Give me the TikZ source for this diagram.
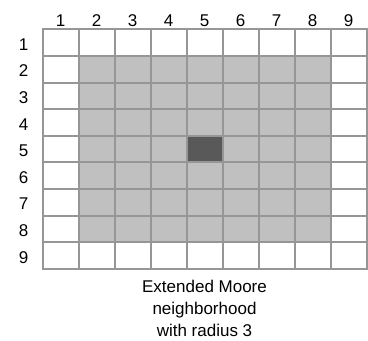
\documentclass[tikz,border=0pt]{standalone}
\usepackage{fontspec}
\setmainfont{Liberation Sans}
\usepackage{xcolor}
\usetikzlibrary{positioning}
\definecolor{gridline}{HTML}{969696}
\definecolor{hoodgray}{HTML}{C0C0C0}
\definecolor{centergray}{HTML}{595959}

\begin{document}
\begin{tikzpicture}[x=0.75pt, y=-0.75pt,
  cell/.style={draw=gridline, line width=1.5pt, minimum width=27pt, minimum height=19.95pt, inner sep=0pt, outer sep=0pt},
  idx/.style={inner sep=0pt, font=\fontsize{12.75}{15}\selectfont},
  caption/.style={inner sep=0pt, align=center, font=\fontsize{12.75}{16.65}\selectfont}
]
\useasboundingbox (0,0) rectangle (368,341);
% cells of the 9x9 lattice
\foreach \r in {1,...,9} {
  \foreach \c in {1,...,9} {
    \def\cellfill{white}
    \ifnum\r>1 \ifnum\r<9 \ifnum\c>1 \ifnum\c<9 \def\cellfill{hoodgray}\fi\fi\fi\fi
    \ifnum\r=5 \ifnum\c=5 \def\cellfill{centergray}\fi\fi
    \node[cell, fill=\cellfill] (c\r-\c) at ({42.5+36*(\c-0.5)}, {29.5+26.6*(\r-0.5)}) {};
  }
}
% indices
\foreach \c in {1,...,9}
  \node[idx, above=2.2pt of c1-\c] (col\c) {\c};
\foreach \r in {1,...,9}
  \node[idx, left=10.4pt of c\r-1, yshift=-1.2pt] (row\r) {\r};
\node[caption, below=8pt of c9-5] (caption) {Extended Moore\\neighborhood\\with radius 3};
\end{tikzpicture}
\end{document}
